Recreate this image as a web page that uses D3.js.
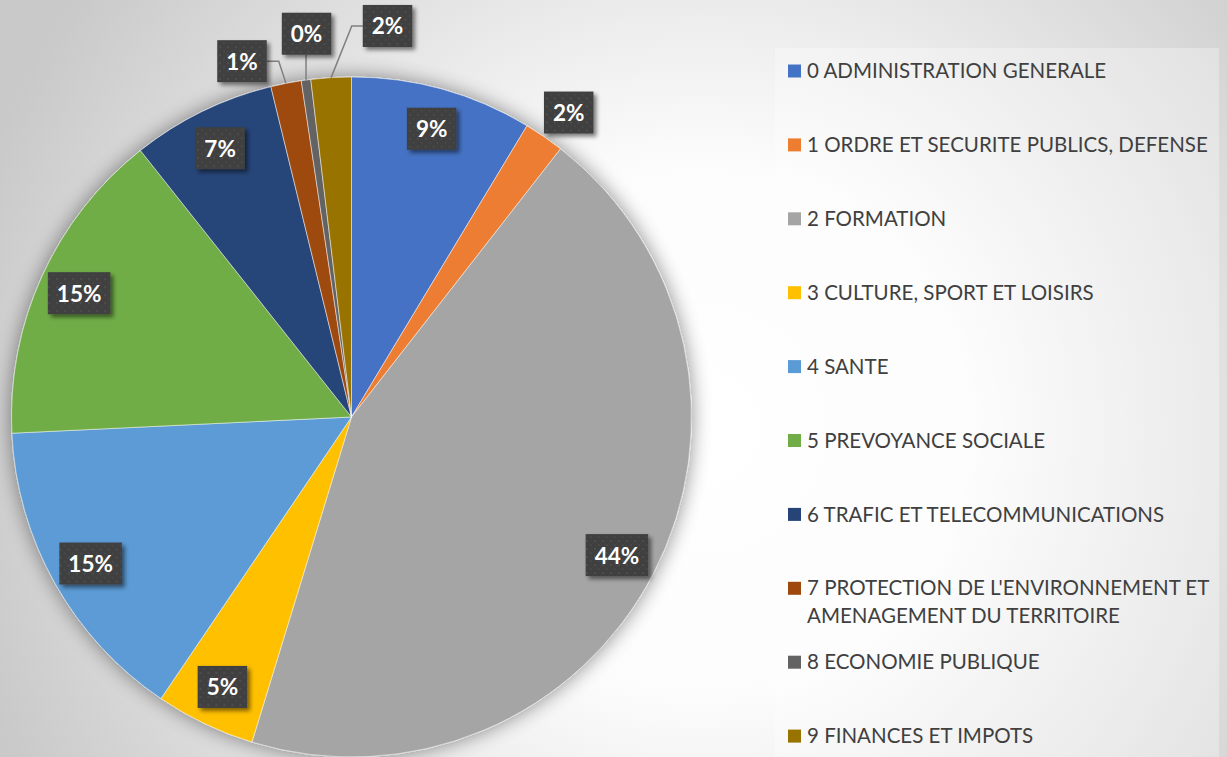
<html><head>
  <script src="https://d3js.org/d3.v7.min.js"></script>
  <style>
  body { margin: 0; }
  #pie .lbl text {
    font-family: Lato, "Open Sans", sans-serif;
    font-weight: 700;
    font-size: 22.5px;
    fill: #fff;
    text-anchor: middle;
    dominant-baseline: central;
  }
  #legend text {
    font-family: Lato, "Open Sans", sans-serif;
    font-size: 20.5px;
    fill: #404040;
  }
  .leader {
    stroke: #808080;
    stroke-width: 1.5;
    fill: none;
  }
  </style>
</head>
<body>
  <svg height="757" width="1227" id="chart"></svg>

  <script>

  // data (share of total, in %)
  const categories = [
    "0 ADMINISTRATION GENERALE",
    "1 ORDRE ET SECURITE PUBLICS, DEFENSE",
    "2 FORMATION",
    "3 CULTURE, SPORT ET LOISIRS",
    "4 SANTE",
    "5 PREVOYANCE SOCIALE",
    "6 TRAFIC ET TELECOMMUNICATIONS",
    "7 PROTECTION DE L'ENVIRONNEMENT ET AMENAGEMENT DU TERRITOIRE",
    "8 ECONOMIE PUBLIQUE",
    "9 FINANCES ET IMPOTS"
  ];
  const shares = [8.63, 1.91, 44.19, 4.74, 14.77, 15.10, 6.85, 1.45, 0.45, 1.91];
  const colors = ["#4472C4", "#ED7D31", "#A5A5A5", "#FFC000", "#5B9BD5",
                  "#70AD47", "#264478", "#9E480E", "#636363", "#997300"];

  // labels placed outside the pie (angle nudge in degrees, radius factor)
  const outsideLabels = { 1: [1, 1.10], 7: [-6, 1.095], 8: [1, 1.135], 9: [8.7, 1.155] };

  let svg = d3.select("#chart");
  let width = +svg.attr("width");
  let height = +svg.attr("height");

  let defs = svg.append("defs");

  // background
  let bg = defs.append("radialGradient").attr("id", "bg")
    .attr("gradientUnits", "userSpaceOnUse")
    .attr("cx", 700).attr("cy", 430).attr("r", 760);
  bg.append("stop").attr("offset", "0").attr("stop-color", "#ffffff");
  bg.append("stop").attr("offset", "0.35").attr("stop-color", "#fcfcfc");
  bg.append("stop").attr("offset", "1").attr("stop-color", "#c9c9c9");
  svg.append("rect").attr("width", width).attr("height", height).attr("fill", "url(#bg)");

  // soft halo around the pie
  let halo = defs.append("filter").attr("id", "halo")
    .attr("x", "-20%").attr("y", "-20%").attr("width", "140%").attr("height", "140%");
  halo.append("feGaussianBlur").attr("in", "SourceAlpha").attr("stdDeviation", 10).attr("result", "b");
  halo.append("feComponentTransfer").attr("in", "b").attr("result", "s")
    .append("feFuncA").attr("type", "linear").attr("slope", 0.45);
  let hm = halo.append("feMerge");
  hm.append("feMergeNode").attr("in", "s");
  hm.append("feMergeNode").attr("in", "SourceGraphic");

  // label box shadow
  let boxShadow = defs.append("filter").attr("id", "boxShadow")
    .attr("x", "-20%").attr("y", "-20%").attr("width", "150%").attr("height", "150%");
  boxShadow.append("feGaussianBlur").attr("in", "SourceAlpha").attr("stdDeviation", 2).attr("result", "b");
  boxShadow.append("feOffset").attr("in", "b").attr("dx", 3).attr("dy", 3).attr("result", "o");
  boxShadow.append("feComponentTransfer").attr("in", "o").attr("result", "s")
    .append("feFuncA").attr("type", "linear").attr("slope", 0.5);
  let bm = boxShadow.append("feMerge");
  bm.append("feMergeNode").attr("in", "s");
  bm.append("feMergeNode").attr("in", "SourceGraphic");

  // dotted texture of the label boxes
  let pat = defs.append("pattern").attr("id", "dots")
    .attr("width", 8).attr("height", 8).attr("patternUnits", "userSpaceOnUse");
  pat.append("rect").attr("width", 8).attr("height", 8).attr("fill", "#3f3f3f");
  pat.append("circle").attr("cx", 2).attr("cy", 2).attr("r", 0.9).attr("fill", "#555");
  pat.append("circle").attr("cx", 6).attr("cy", 6).attr("r", 0.9).attr("fill", "#4c4c4c");

  // legend panel
  svg.append("rect")
    .attr("x", 775).attr("y", 48).attr("width", 444).attr("height", height - 48)
    .attr("fill", "#fff").attr("opacity", 0.3);

  // pie
  const cx = 351.5, cy = 417, radius = 340;
  let data = shares.map((v, i) => ({ name: categories[i], value: v, index: i }));
  let pie = d3.pie().sort(null).value(d => d.value);
  let arcs = pie(data);
  let arc = d3.arc().innerRadius(0).outerRadius(radius);

  let g = svg.append("g").attr("id", "pie").attr("transform", "translate(" + cx + "," + cy + ")");
  g.append("g").attr("filter", "url(#halo)")
    .selectAll("path").data(arcs).join("path")
    .attr("d", arc)
    .attr("fill", d => colors[d.data.index])
    .attr("stroke", "#fff").attr("stroke-width", 0.5);

  const fmt = d3.format(".0%");
  let leaders = g.append("g");
  let labels = g.append("g").attr("class", "lbl");

  arcs.forEach(d => {
    let mid = (d.startAngle + d.endAngle) / 2;
    let out = outsideLabels[d.data.index];
    let ang = mid, rf = 0.88;
    if (out) { ang = mid + out[0] * Math.PI / 180; rf = out[1]; }
    let lx = Math.sin(ang) * radius * rf;
    let ly = -Math.cos(ang) * radius * rf;

    let lg = labels.append("g").attr("transform", "translate(" + lx + "," + ly + ")");
    let box = lg.append("rect").attr("fill", "url(#dots)").attr("filter", "url(#boxShadow)");
    let t = lg.append("text").text(fmt(d.data.value / 100));
    let w = t.node().getComputedTextLength() + 18;
    let h = 42;
    box.attr("x", -w / 2).attr("y", -h / 2).attr("width", w).attr("height", h);

    if (out && d.data.index !== 1) {
      // leader line from box to the arc edge
      let ax = Math.sin(mid) * radius, ay = -Math.cos(mid) * radius;
      let pts;
      if (Math.abs(ax - lx) < w / 2) {
        pts = [[ax, ly + h / 2], [ax, ay]];
      } else if (ax > lx) {
        pts = [[lx + w / 2, ly], [lx + w / 2 + 12, ly], [ax, ay]];
      } else {
        pts = [[lx - w / 2, ly], [lx - w / 2 - 11, ly], [ax, ay]];
      }
      leaders.append("path").attr("class", "leader").attr("d", d3.line()(pts));
    }
  });

  // legend
  let legend = svg.append("g").attr("id", "legend");
  const legX = 788, legY = 71, legStep = 73.9, wrapWidth = 412;
  categories.forEach((name, i) => {
    let y = legY + i * legStep;
    legend.append("rect")
      .attr("x", legX).attr("y", y - 6.5).attr("width", 13).attr("height", 13)
      .attr("fill", colors[i]);
    let t = legend.append("text").attr("x", legX + 19).attr("y", y).attr("dy", "0.35em");
    // simple word wrap
    let words = name.split(" ");
    let line = [];
    let tspan = t.append("tspan").attr("x", legX + 19);
    words.forEach(wd => {
      line.push(wd);
      tspan.text(line.join(" "));
      if (tspan.node().getComputedTextLength() > wrapWidth && line.length > 1) {
        line.pop();
        tspan.text(line.join(" "));
        line = [wd];
        tspan = t.append("tspan").attr("x", legX + 19).attr("dy", 28).text(wd);
      }
    });
  });

  </script>

</body>
</html>
